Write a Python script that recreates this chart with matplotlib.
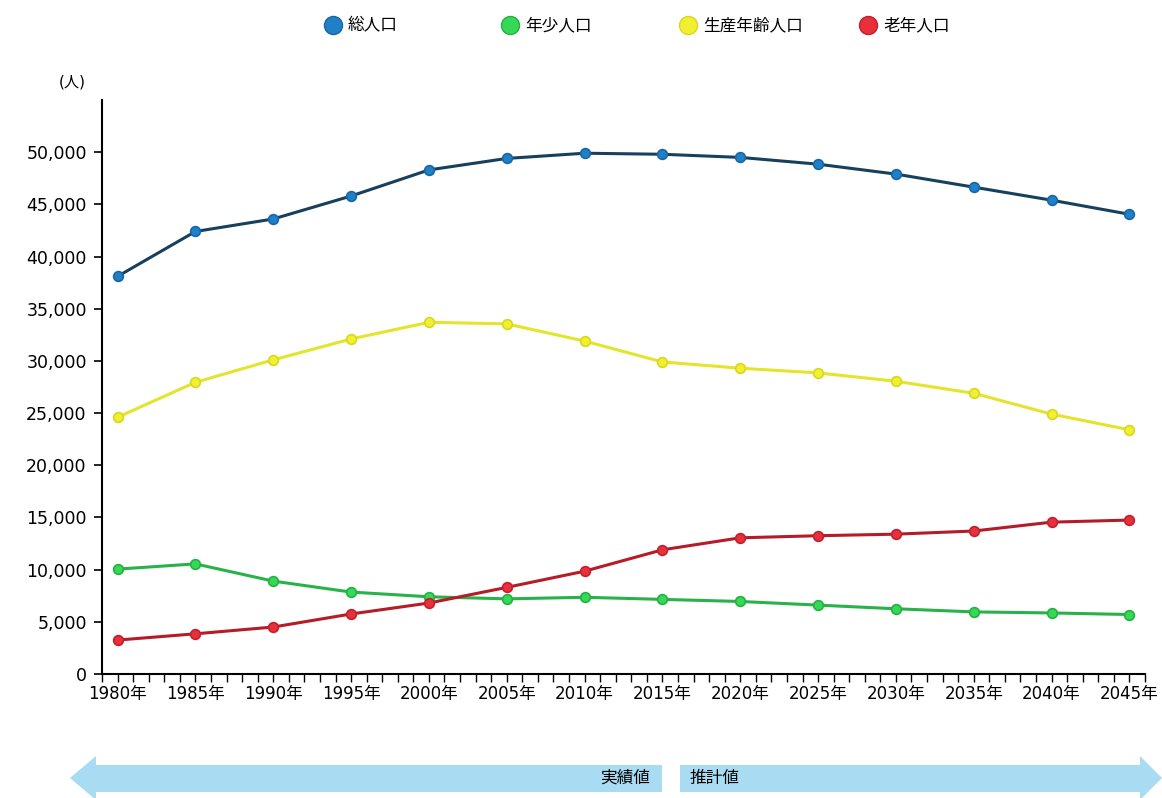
import matplotlib
matplotlib.use('Agg')
import matplotlib.pyplot as plt
from matplotlib.lines import Line2D
from matplotlib.patches import Polygon
from matplotlib.ticker import FuncFormatter

plt.rcParams['font.family'] = ['DejaVu Sans', 'Noto Sans CJK JP']

years = [1980, 1985, 1990, 1995, 2000, 2005, 2010, 2015, 2020, 2025, 2030, 2035, 2040, 2045]
year_labels = [f'{y}年' for y in years]

total = [38100, 42400, 43600, 45800, 48300, 49400, 49900, 49800, 49500, 48850, 47900, 46650, 45400, 44050]
young = [10050, 10550, 8900, 7850, 7400, 7200, 7350, 7150, 6950, 6600, 6250, 5950, 5850, 5700]
working = [24600, 27950, 30100, 32100, 33700, 33550, 31900, 29900, 29300, 28850, 28050, 26900, 24900, 23400]
elderly = [3250, 3850, 4500, 5750, 6800, 8300, 9850, 11900, 13050, 13250, 13400, 13700, 14550, 14750]

names = ['総人口', '年少人口', '生産年齢人口', '老年人口']
series = [total, young, working, elderly]
line_colors = ['#17405f', '#29b24a', '#e4e42c', '#b51c28']
marker_colors = ['#1f80c8', '#35d955', '#f0f030', '#e8303a']
edge_colors = ['#1766a6', '#25b045', '#d8d820', '#c02030']

fig = plt.figure(figsize=(11.62, 7.98), dpi=100)
W, H = 1162, 798
ax = fig.add_axes([102 / W, 1 - 674 / H, (1145 - 102) / W, (674 - 100) / H])

for vals, lc, mc, ec in zip(series, line_colors, marker_colors, edge_colors):
    ax.plot(years, vals, color=lc, lw=2.2, marker='o', ms=7,
            mfc=mc, mec=ec, mew=1.2, zorder=3)

ax.set_xlim(1979, 2046)
ax.set_ylim(0, 55000)
ax.set_xticks(range(1979, 2047), minor=True)
ax.set_xticks(years)
ax.set_xticklabels(year_labels, fontsize=12)
ax.set_yticks(range(0, 50001, 5000))
ax.yaxis.set_major_formatter(FuncFormatter(lambda v, p: f'{int(v):,}'))
ax.tick_params(axis='y', labelsize=12.5, length=6, width=1.2, pad=5)
ax.tick_params(axis='x', which='both', length=6, width=1, pad=2)
for side in ['top', 'right']:
    ax.spines[side].set_visible(False)
for side in ['left', 'bottom']:
    ax.spines[side].set_linewidth(1.5)

fig.text(72 / W, 1 - 82 / H, '(人)', fontsize=11, ha='center', va='center')

# legend row across the top
legend_x = [333, 510, 688, 868]
for x, name, mc, ec in zip(legend_x, names, marker_colors, edge_colors):
    fig.add_artist(Line2D([x / W], [1 - 25 / H], marker='o', ms=13,
                          mfc=mc, mec=ec, transform=fig.transFigure))
    fig.text((x + 15) / W, 1 - 25 / H, name, fontsize=12, ha='left', va='center')

# 実績値 / 推計値 arrows under the axis
def fig_xy(pts):
    return [(px / W, 1 - py / H) for px, py in pts]

arrow_color = '#a9dcf3'
left_arrow = fig_xy([(70, 778), (96, 756), (96, 765), (662, 765),
                     (662, 792), (96, 792), (96, 800)])
right_arrow = fig_xy([(680, 765), (1140, 765), (1140, 756), (1162, 778),
                      (1140, 800), (1140, 792), (680, 792)])
for pts in [left_arrow, right_arrow]:
    fig.add_artist(Polygon(pts, closed=True, facecolor=arrow_color,
                           edgecolor='none', transform=fig.transFigure))
fig.text(650 / W, 1 - 778 / H, '実績値', fontsize=12, ha='right', va='center')
fig.text(690 / W, 1 - 778 / H, '推計値', fontsize=12, ha='left', va='center')

fig.savefig('out.png', dpi=100)
